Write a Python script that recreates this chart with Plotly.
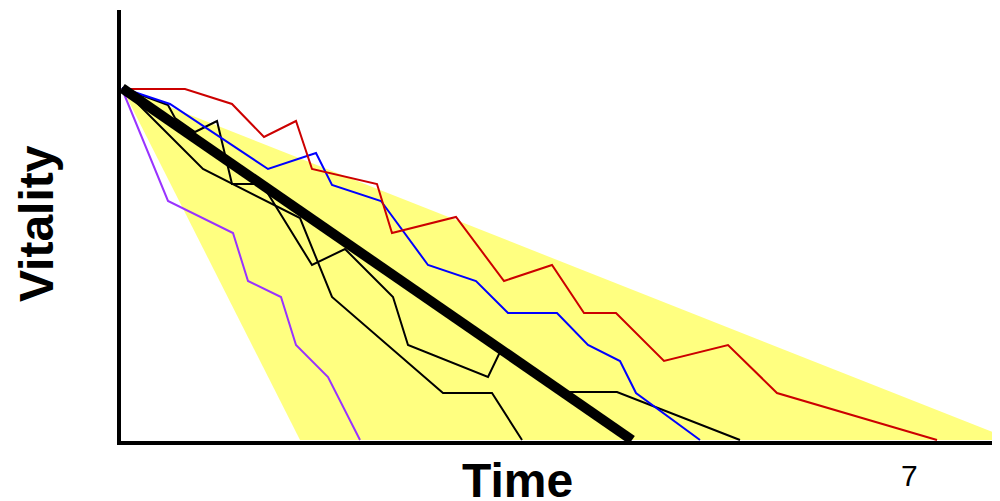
import plotly.graph_objects as go

# Time / vitality values (arbitrary units: time 0..880, vitality 0..430)
band_t = [2, 180, 880, 880, 2]
band_v = [352, 0, 0, 5, 352]

mean_t = [2, 512]
mean_v = [352, 0]

red_t = [2, 65, 112, 144, 176, 192, 257, 272, 336, 384, 432, 464, 496, 544, 608, 657, 817]
red_v = [351, 351, 336, 303, 319, 271, 256, 207, 223, 159, 175, 127, 127, 79, 95, 47, 0]

blue_t = [2, 50, 148, 196, 212, 261, 308, 356, 388, 437, 468, 500, 516, 580]
blue_v = [352, 336, 271, 287, 255, 239, 175, 159, 127, 127, 95, 79, 47, 0]

purple_t = [2, 48, 113, 128, 161, 176, 208, 240]
purple_v = [351, 239, 207, 159, 143, 95, 63, 0]

blackA_t = [2, 83, 180, 212, 323, 372, 402]
blackA_v = [352, 271, 222, 143, 47, 47, 0]

blackB_t = [2, 48, 55, 75, 97, 112, 142, 192, 225, 273, 288, 368, 380, 440, 497, 620]
blackB_v = [352, 335, 322, 308, 319, 256, 256, 175, 191, 143, 95, 63, 88, 48, 48, 0]

fig = go.Figure()

fig.add_trace(go.Scatter(x=band_t, y=band_v, mode="lines", fill="toself",
                         fillcolor="rgb(255,255,128)", line=dict(width=0),
                         hoverinfo="skip", showlegend=False))

def add_line(t, v, color, width):
    fig.add_trace(go.Scatter(x=t, y=v, mode="lines",
                             line=dict(color=color, width=width),
                             showlegend=False, hoverinfo="skip"))

add_line(blackA_t, blackA_v, "black", 2)
add_line(blackB_t, blackB_v, "black", 2)
add_line(purple_t, purple_v, "rgb(153,51,255)", 2)
add_line(blue_t, blue_v, "rgb(0,0,255)", 2)
add_line(red_t, red_v, "rgb(204,0,0)", 2)
add_line(mean_t, mean_v, "black", 10)

# page body has an 8px margin: figure is 992x493 placed at (8,8)
fig.update_layout(
    width=992, height=493,
    margin=dict(l=113, r=0, t=2, b=60),
    paper_bgcolor="white", plot_bgcolor="white",
    xaxis=dict(range=[1, 880], showgrid=False, zeroline=False, showticklabels=False,
               ticks="", showline=True, linecolor="black", linewidth=4, fixedrange=True),
    yaxis=dict(range=[-1, 430], showgrid=False, zeroline=False, showticklabels=False,
               ticks="", showline=True, linecolor="black", linewidth=4, fixedrange=True),
    annotations=[
        dict(text="<b>Vitality</b>", xref="paper", yref="paper", x=-0.0955, y=0.5035,
             xanchor="center", yanchor="middle", textangle=-90, showarrow=False,
             font=dict(family="Liberation Sans", size=48, color="black")),
        dict(text="<b>Time</b>", xref="paper", yref="paper", x=0.451, y=-0.091,
             xanchor="center", yanchor="middle", showarrow=False,
             font=dict(family="Liberation Sans", size=48, color="black")),
        dict(text="7", xref="paper", yref="paper", x=0.8965, y=-0.081,
             xanchor="center", yanchor="middle", showarrow=False,
             font=dict(family="Liberation Sans", size=30, color="black")),
    ],
)

fig.write_html("out.html")
